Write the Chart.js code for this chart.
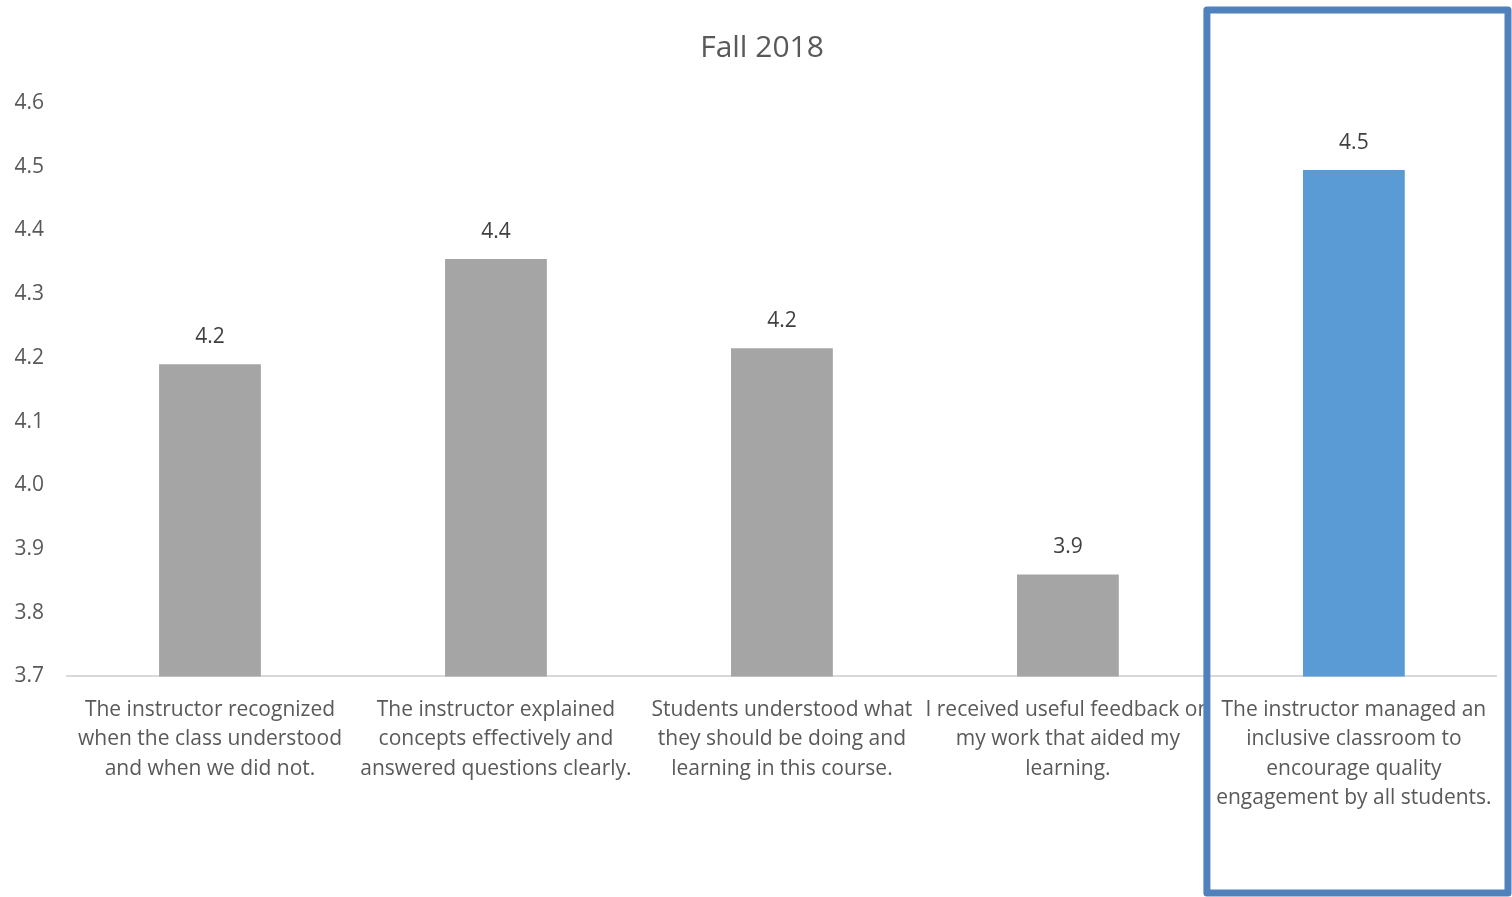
<!DOCTYPE html>
<html>
<head>
<meta charset="utf-8">
<script src="https://cdn.jsdelivr.net/npm/chart.js@4.4.0/dist/chart.umd.min.js"></script>
<style>
  html, body { margin: 0; padding: 0; background: #fff; }
  #wrap { width: 1512px; height: 897px; position: relative; }
</style>
</head>
<body>
<div id="wrap"><canvas id="surveyChart"></canvas></div>
<script>
// Dados do gráfico
const chartTitle = 'Fall 2018';
const categories = [
    ['The instructor recognized', 'when the class understood', 'and when we did not.'],
    ['The instructor explained', 'concepts effectively and', 'answered questions clearly.'],
    ['Students understood what', 'they should be doing and', 'learning in this course.'],
    ['I received useful feedback on', 'my work that aided my', 'learning.'],
    ['The instructor managed an', 'inclusive classroom to', 'encourage quality', 'engagement by all students.']
];
const scores = [4.19, 4.355, 4.215, 3.86, 4.495];
const barColors = ['#A5A5A5', '#A5A5A5', '#A5A5A5', '#A5A5A5', '#5B9BD5'];
const yTicks = [3.7, 3.8, 3.9, 4.0, 4.1, 4.2, 4.3, 4.4, 4.5, 4.6];
const highlightIndex = 4;

const fontFamily = '"Open Sans", "Noto Sans", sans-serif';

// Título desenhado um pouco à direita do centro (como no original)
const titleText = {
    id: 'titleText',
    afterDraw(chart) {
        const ctx = chart.ctx;
        const block = chart.titleBlock;
        ctx.save();
        ctx.fillStyle = '#595959';
        ctx.font = '30px ' + fontFamily;
        ctx.textAlign = 'center';
        ctx.textBaseline = 'middle';
        ctx.fillText(chartTitle, chart.width / 2 + 6, block.top + 30 + 18);
        ctx.restore();
    }
};

// Rótulos de valor acima das barras
const valueLabels = {
    id: 'valueLabels',
    afterDatasetsDraw(chart) {
        const ctx = chart.ctx;
        const meta = chart.getDatasetMeta(0);
        ctx.save();
        ctx.fillStyle = '#404040';
        ctx.font = '21px ' + fontFamily;
        ctx.textAlign = 'center';
        ctx.textBaseline = 'middle';
        meta.data.forEach((bar, i) => {
            ctx.fillText(scores[i].toFixed(1), bar.x, bar.y - 27);
        });
        ctx.restore();
    }
};

// Moldura de destaque da última categoria
const highlightBox = {
    id: 'highlightBox',
    afterDraw(chart) {
        const ctx = chart.ctx;
        const x = chart.scales.x;
        const left = (x.getPixelForTick(highlightIndex - 1) + x.getPixelForTick(highlightIndex)) / 2 - 4;
        const right = chart.width - 4;
        const top = 10;
        const bottom = chart.height - 4;
        ctx.save();
        ctx.strokeStyle = '#4F81BD';
        ctx.lineWidth = 7;
        ctx.lineJoin = 'round';
        ctx.strokeRect(left, top, right - left, bottom - top);
        ctx.restore();
    }
};

new Chart(document.getElementById('surveyChart'), {
    type: 'bar',
    data: {
        labels: categories,
        datasets: [{
            data: scores,
            backgroundColor: barColors,
            barPercentage: 0.356,
            categoryPercentage: 1.0
        }]
    },
    options: {
        responsive: true,
        maintainAspectRatio: false,
        animation: false,
        layout: { padding: { left: 0, right: 14, top: 0, bottom: 65 } },
        plugins: {
            legend: { display: false },
            tooltip: { enabled: false },
            title: {
                display: true,
                text: chartTitle,
                color: 'rgba(0,0,0,0)',
                font: { family: fontFamily, size: 30, weight: 'normal' },
                padding: { top: 30, bottom: 37 }
            }
        },
        scales: {
            x: {
                grid: { display: false, drawTicks: false },
                border: { display: true, color: '#D9D9D9', width: 2 },
                ticks: {
                    color: '#595959',
                    font: { family: fontFamily, size: 21, lineHeight: 1.4 },
                    maxRotation: 0,
                    autoSkip: false,
                    padding: 19
                }
            },
            y: {
                min: 3.7,
                max: 4.6,
                afterBuildTicks(axis) {
                    axis.ticks = yTicks.map(v => ({ value: v }));
                },
                afterFit(axis) {
                    axis.width = 67;
                },
                grid: { display: false, drawTicks: false },
                border: { display: false },
                ticks: {
                    color: '#595959',
                    font: { family: fontFamily, size: 21 },
                    padding: 23,
                    callback: v => v.toFixed(1)
                }
            }
        }
    },
    plugins: [titleText, valueLabels, highlightBox]
});
</script>
</body>
</html>
